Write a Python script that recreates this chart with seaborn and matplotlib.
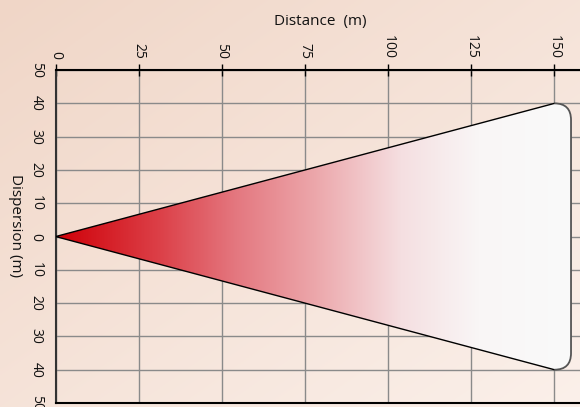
import numpy as np
import pandas as pd
import matplotlib.pyplot as plt
from matplotlib.path import Path
from matplotlib.patches import PathPatch
from matplotlib.colors import LinearSegmentedColormap
import seaborn as sns

# data
distance_ticks = [0, 25, 50, 75, 100, 125, 150]
dispersion_ticks = [50, 40, 30, 20, 10, 0, -10, -20, -30, -40, -50]
dispersion_labels = [str(abs(v)) for v in dispersion_ticks]
max_range = 150
spread_at_max = 40
cap_radius = 5

sns.set_style("white")
plt.rcParams["font.family"] = ["Open Sans", "DejaVu Sans"]
plt.rcParams["text.color"] = "#111111"
plt.rcParams["xtick.color"] = "#111111"
plt.rcParams["ytick.color"] = "#111111"

fig = plt.figure(figsize=(5.8, 4.07), dpi=100)

# background gradient
bg = fig.add_axes([0, 0, 1, 1], zorder=-5)
gx, gy = np.meshgrid(np.linspace(0, 1, 200), np.linspace(0, 1, 200))
t = (gx + gy) / 2
c0 = np.array([240, 214, 199]) / 255
c1 = np.array([251, 240, 234]) / 255
bg.imshow(c0 + (c1 - c0) * t[..., None], extent=[0, 1, 0, 1], aspect="auto", origin="upper")
bg.axis("off")

ax = fig.add_axes([0.096, 0.0098, 0.904, 0.818])
ax.set_facecolor("none")
ax.set_xlim(0, 157.7)
ax.set_ylim(-50, 50)

# cone outline (two sides)
sides = pd.DataFrame({
    "distance": [max_range, 0, max_range],
    "dispersion": [spread_at_max, 0, -spread_at_max],
})
sns.lineplot(data=sides, x="distance", y="dispersion", sort=False, estimator=None,
             color="black", linewidth=1.0, ax=ax, zorder=4)

# rounded cap path
r = cap_radius
verts = [
    (0, 0), (max_range, spread_at_max),
    (max_range + r, spread_at_max), (max_range + r, spread_at_max - r),
    (max_range + r, -spread_at_max + r),
    (max_range + r, -spread_at_max), (max_range, -spread_at_max),
    (0, 0),
]
codes = [Path.MOVETO, Path.LINETO, Path.CURVE3, Path.CURVE3, Path.LINETO,
         Path.CURVE3, Path.CURVE3, Path.CLOSEPOLY]
cone = Path(verts, codes)

cmap = LinearSegmentedColormap.from_list("cone", [
    (0.0, "#cf0008"), (0.2, "#dc4048"), (0.35, "#e47880"),
    (0.5, "#eca6aa"), (0.67, "#f5dfe1"), (0.82, "#f9f6f6"), (1.0, "#fafafa")])
grad = np.linspace(0, 1, 256)[None, :]
im = ax.imshow(grad, cmap=cmap, extent=[0, max_range + r, -spread_at_max, spread_at_max],
               aspect="auto", zorder=1)
patch = PathPatch(cone, facecolor="none", edgecolor="none")
ax.add_patch(patch)
im.set_clip_path(patch)

cap = Path([(max_range, spread_at_max), (max_range + r, spread_at_max),
            (max_range + r, spread_at_max - r), (max_range + r, -spread_at_max + r),
            (max_range + r, -spread_at_max), (max_range, -spread_at_max)],
           [Path.MOVETO, Path.CURVE3, Path.CURVE3, Path.LINETO, Path.CURVE3, Path.CURVE3])
ax.add_patch(PathPatch(cap, facecolor="none", edgecolor="#555555", linewidth=1.3, zorder=4))

# grid and axes
ax.set_xticks(distance_ticks)
ax.set_yticks(dispersion_ticks)
ax.set_yticklabels(dispersion_labels, rotation=270, va="center", ha="center")
ax.set_xticklabels([str(v) for v in distance_ticks], rotation=270, ha="center", va="bottom")
ax.xaxis.tick_top()
ax.grid(True, color="#8a8a8a", linewidth=1.0)
for line in ax.get_xgridlines() + ax.get_ygridlines():
    line.set_zorder(3)
ax.tick_params(axis="x", direction="inout", length=8, width=1, color="black",
               labelsize=10, pad=4)
ax.tick_params(axis="y", direction="inout", length=8, width=1, color="black",
               labelsize=10, pad=10)
for side in ["top", "bottom"]:
    ax.spines[side].set_color("black")
    ax.spines[side].set_linewidth(1.5)
ax.spines["left"].set_color("#333333")
ax.spines["left"].set_linewidth(1.5)
ax.spines["right"].set_visible(False)

ax.set_xlabel("")
ax.set_ylabel("")
fig.text(0.553, 0.946, "Distance  (m)", ha="center", va="center", fontsize=11)
fig.text(0.026, 0.447, "Dispersion (m)", ha="center", va="center", rotation=270, fontsize=11)

fig.savefig("out.png", dpi=100)
